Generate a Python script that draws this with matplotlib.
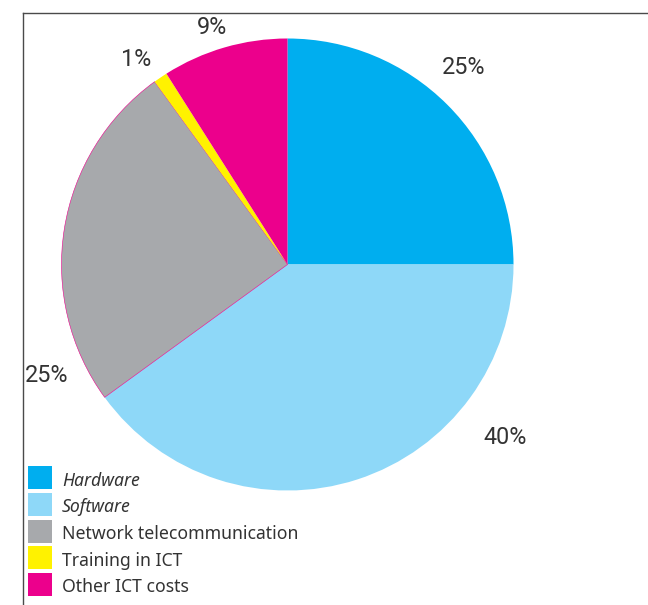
import matplotlib
matplotlib.use("Agg")
import matplotlib.pyplot as plt
from matplotlib.patches import Rectangle
from matplotlib.lines import Line2D

# ICT cost breakdown (percent of total)
categories = ["Hardware", "Software", "Network telecommunication",
              "Training in ICT", "Other ICT costs"]
shares = [25, 40, 25, 1, 9]
colors = ["#00aeef", "#8ed8f8", "#a7a9ac", "#fff200", "#ec008c"]
italic = [True, True, False, False, False]

# layout (pixel space, y grows downward)
W, H = 648, 605
center = (287.5, 264.5)
radius = 226
label_pos = [(464, 67), (505, 437), (47, 376), (136, 60), (212, 27)]

pct_font = ["Roboto", "DejaVu Sans"]
leg_font = ["Noto Sans", "DejaVu Sans"]
text_color = "#333333"

fig = plt.figure(figsize=(W / 100, H / 100), dpi=100)
ax = fig.add_axes([0, 0, 1, 1])

wedges, _ = ax.pie(shares, colors=colors, startangle=-90, counterclock=True,
                   center=center, radius=radius,
                   wedgeprops=dict(linewidth=0))
# thin magenta rim on the network slice
wedges[2].set_edgecolor("#ec008c")
wedges[2].set_linewidth(0.4)

ax.set_xlim(0, W)
ax.set_ylim(H, 0)
ax.set_aspect("equal")
ax.axis("off")

for v, (x, y) in zip(shares, label_pos):
    ax.text(x, y, f"{v}%", ha="center", va="center", fontsize=16.8,
            family=pct_font, color=text_color)

# frame lines along top and left
ax.add_line(Line2D([23, W], [13, 13], color="#4a4a4a", lw=1.0))
ax.add_line(Line2D([23, 23], [13, H], color="#4a4a4a", lw=1.0))

# legend
sq_w, sq_h, pitch, top0 = 24, 23, 26.75, 466
for i, (name, c, it) in enumerate(zip(categories, colors, italic)):
    y0 = top0 + i * pitch
    ax.add_patch(Rectangle((28, y0), sq_w, sq_h, facecolor=c, edgecolor="none"))
    ax.text(62, y0 + sq_h / 2 + 3, name, ha="left", va="center", fontsize=12.7,
            family=leg_font, color=text_color,
            style="italic" if it else "normal")

fig.savefig("out.png", dpi=100)
